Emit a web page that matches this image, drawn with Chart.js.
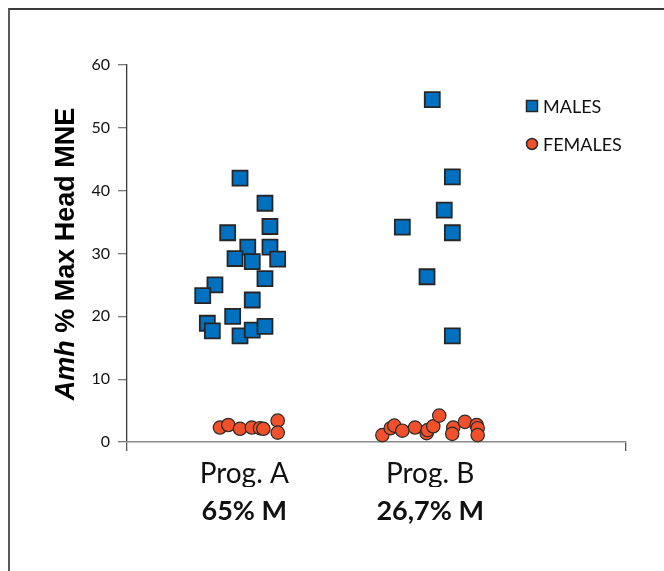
<!DOCTYPE html>
<html>
<head>
<meta charset="utf-8">
<script src="https://cdn.jsdelivr.net/npm/chart.js@4.4.1/dist/chart.umd.min.js"></script>
<style>
  html, body { margin: 0; padding: 0; background: #fff; overflow: hidden; }
  #frame { position: absolute; left: 8px; top: 8px; width: 700px; height: 620px;
           border-left: 2px solid #5a5a5a; border-top: 2px solid #3a3a3a; box-sizing: border-box; }
  #wrap { position: absolute; left: 0; top: 0; width: 664px; height: 571px; }
</style>
</head>
<body>
<div id="frame"></div>
<div id="wrap"><canvas id="c" width="664" height="571"></canvas></div>
<script>
// ---- Data ----
const categoryLabels = ['Prog. A', 'Prog. B'];
const categorySubLabels = ['65% M', '26,7% M'];
const categoryPositions = [0.94, 2.43];
const xRange = [0, 4];
const yTicks = [0, 10, 20, 30, 40, 50, 60];

const malesAX = [0.906, 1.106, 0.807, 1.146, 0.968, 1.146, 0.866, 1.004, 1.208, 1.106, 0.705, 0.607, 1.004, 0.847, 0.644, 0.684, 0.906, 1.004, 1.106];
const malesAY = [42.0, 38.0, 33.3, 34.3, 31.0, 31.0, 29.2, 28.7, 29.1, 26.0, 25.0, 23.3, 22.6, 20.0, 18.9, 17.7, 16.9, 17.8, 18.4];
const malesBX = [2.447, 2.608, 2.543, 2.207, 2.608, 2.405, 2.608];
const malesBY = [54.5, 42.2, 36.9, 34.2, 33.3, 26.3, 16.9];

const femalesAX = [0.745, 0.812, 0.906, 1.000, 1.066, 1.093, 1.208, 1.208];
const femalesAY = [2.3, 2.7, 2.1, 2.3, 2.2, 2.1, 3.4, 1.5];
const femalesBX = [2.047, 2.114, 2.143, 2.207, 2.309, 2.402, 2.410, 2.455, 2.503, 2.615, 2.607, 2.709, 2.803, 2.811, 2.811];
const femalesBY = [1.1, 2.2, 2.6, 1.8, 2.3, 1.4, 1.9, 2.5, 4.2, 2.3, 1.3, 3.2, 2.7, 2.2, 1.1];

const seriesNames = ['MALES', 'FEMALES'];
const yTitleItalic = 'Amh';
const yTitleRest = ' % Max Head MNE';

// ---- Build ----
const zip = (xs, ys) => xs.map((x, i) => ({ x: x, y: ys[i] }));
const males = zip(malesAX, malesAY).concat(zip(malesBX, malesBY));
const females = zip(femalesAX, femalesAY).concat(zip(femalesBX, femalesBY));

const FONT = "Lato, 'Open Sans', 'DejaVu Sans', sans-serif";
const TITLE_FONT = "'Liberation Sans', Arial, sans-serif";
const maleFill = '#0070C0', femaleFill = '#F0502A';

const fixedTicks = (scale) => { scale.ticks = [xRange[0]].concat(categoryPositions, [xRange[1]]).map(v => ({ value: v })); };
const fixedTicks2 = (scale) => { scale.ticks = categoryPositions.map(v => ({ value: v })); };

const overlay = {
  id: 'overlay',
  afterDraw(chart) {
    const ctx = chart.ctx;
    // Y title with italic part
    ctx.save();
    ctx.translate(74, 254);
    ctx.rotate(-Math.PI / 2);
    ctx.fillStyle = '#000';
    ctx.textBaseline = 'alphabetic';
    const f1 = 'italic bold 27px ' + TITLE_FONT, f2 = 'bold 27px ' + TITLE_FONT;
    ctx.font = f1; const w1 = ctx.measureText(yTitleItalic).width;
    ctx.font = f2; const w2 = ctx.measureText(yTitleRest).width;
    let x0 = -(w1 + w2) / 2;
    ctx.font = f1; ctx.fillText(yTitleItalic, x0, 0);
    ctx.font = f2; ctx.fillText(yTitleRest, x0 + w1, 0);
    ctx.restore();
    // Legend
    const ds = chart.data.datasets;
    const items = [{ y: 106, d: ds[0] }, { y: 144, d: ds[1] }];
    ctx.save();
    items.forEach(it => {
      ctx.fillStyle = it.d.backgroundColor;
      ctx.strokeStyle = it.d.borderColor;
      ctx.lineWidth = 1.5;
      ctx.beginPath();
      if (it.d.pointStyle === 'rect') ctx.rect(526.5, it.y - 5.5, 11, 11);
      else ctx.arc(532, it.y, 5.5, 0, Math.PI * 2);
      ctx.fill(); ctx.stroke();
      ctx.fillStyle = '#111';
      ctx.font = '18px ' + FONT;
      ctx.textBaseline = 'middle';
      ctx.fillText(it.d.label, 543, it.y + 1);
    });
    ctx.restore();
  }
};

new Chart(document.getElementById('c'), {
  type: 'scatter',
  data: {
    datasets: [
      { label: seriesNames[0], data: males, pointStyle: 'rect', pointRadius: 10.6, pointHoverRadius: 10.6,
        backgroundColor: maleFill, borderColor: '#262626', borderWidth: 1.8, clip: false },
      { label: seriesNames[1], data: females, pointStyle: 'circle', pointRadius: 6.7, pointHoverRadius: 6.7,
        backgroundColor: femaleFill, borderColor: '#2a2a2a', borderWidth: 1.2, clip: false }
    ]
  },
  options: {
    responsive: false,
    animation: false,
    events: [],
    layout: { padding: { left: 0, top: 65, right: 38, bottom: 44 } },
    plugins: { legend: { display: false }, tooltip: { enabled: false } },
    scales: {
      y: {
        min: 0, max: 60,
        afterBuildTicks: (s) => { s.ticks = yTicks.map(v => ({ value: v })); },
        afterFit: (s) => { s.width = 127; },
        border: { display: true, color: '#3a3a3a', width: 1.3 },
        grid: { drawOnChartArea: false, drawTicks: true, tickLength: 9, color: '#7a7a7a', lineWidth: 1.3 },
        ticks: { padding: 8, color: '#111', font: { family: FONT, size: 16 } }
      },
      x: {
        type: 'linear', position: 'bottom', weight: 0,
        min: xRange[0], max: xRange[1],
        afterBuildTicks: fixedTicks,
        afterFit: (s) => { s.height = 45; },
        border: { display: true, color: '#8a8a8a', width: 1.5 },
        grid: { drawOnChartArea: false, drawTicks: true, tickLength: 9, lineWidth: 1.3,
                color: (c) => (c.tick && (c.tick.value === xRange[0] || c.tick.value === xRange[1])) ? '#555' : 'rgba(0,0,0,0)' },
        ticks: { autoSkip: false, maxRotation: 0, padding: 6, color: '#111', font: { family: FONT, size: 28 },
                 callback: (v, i) => (i >= 1 && i <= categoryLabels.length) ? categoryLabels[i - 1] : '' }
      },
      x2: {
        type: 'linear', position: 'bottom', weight: 1,
        min: xRange[0], max: xRange[1],
        afterBuildTicks: fixedTicks2,
        afterFit: (s) => { s.height = 40; },
        border: { display: false },
        grid: { display: false, drawTicks: false },
        ticks: { autoSkip: false, maxRotation: 0, padding: 8, color: '#111', font: { family: FONT, size: 27, weight: 'bold' },
                 callback: (v, i) => categorySubLabels[i] }
      }
    }
  },
  plugins: [overlay]
});
</script>
</body>
</html>
